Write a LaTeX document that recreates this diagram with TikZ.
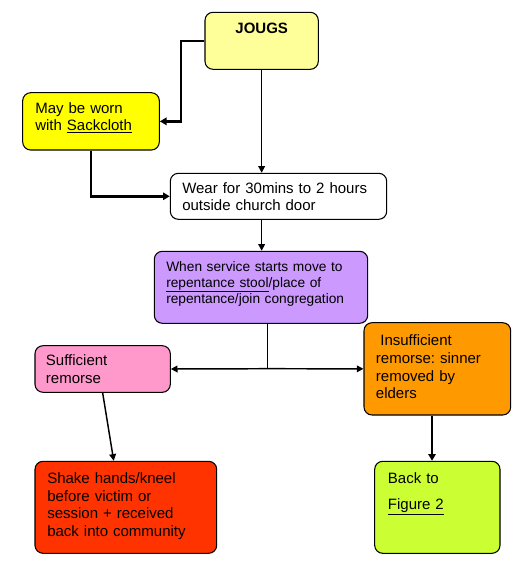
\documentclass[tikz,border=0pt]{standalone}
\usepackage{fontspec}
\setmainfont{Liberation Sans}
\usetikzlibrary{arrows.meta}
\usetikzlibrary{fit}
\frenchspacing

\definecolor{jougsyellow}{HTML}{FFFF99}
\definecolor{sackyellow}{HTML}{FFFF00}
\definecolor{servicepurple}{HTML}{CC99FF}
\definecolor{suffpink}{HTML}{FF99CC}
\definecolor{insorange}{HTML}{FF9900}
\definecolor{shakered}{HTML}{FF3300}
\definecolor{backgreen}{HTML}{CCFF33}

\tikzset{
  box/.style={draw, rounded corners=6pt, inner sep=0pt, line width=0.8pt},
  txt/.style={anchor=base west, inner sep=0pt, align=left,
    font=\fontsize{11.25}{13.3}\selectfont},
  thin link/.style={line width=1.1pt, -{Triangle[length=5pt,width=5pt]}},
  thick link/.style={line width=1.9pt, -{Triangle[length=5pt,width=5.5pt]}}
}

\begin{document}
\begin{tikzpicture}[x=0.75pt,y=-0.75pt]
  \useasboundingbox (0,0) rectangle (529,575);

  % boxes
  \node[box, fill=jougsyellow, fit={(205,12.3) (318.3,69.3)}] (jougs) {};
  \node[box, fill=sackyellow, fit={(22.7,92.7) (159.3,150)}] (sack) {};
  \node[box, fill=white, fit={(170.3,173.3) (386.7,219.3)}] (wear) {};
  \node[box, fill=servicepurple, fit={(154.3,251.3) (367.7,323.3)}] (service) {};
  \node[box, fill=suffpink, fit={(35,345.7) (170.3,392.3)}] (suff) {};
  \node[box, fill=insorange, fit={(364,322.7) (510.7,415)}] (ins) {};
  \node[box, fill=shakered, fit={(35,461.3) (216.7,553.3)}] (shake) {};
  \node[box, fill=backgreen, fit={(374.7,461.3) (500,553.3)}] (back) {};

  % texts
  \node[txt, anchor=base] (jougs-t) at (261.7,33) {\textbf{JOUGS}};
  \node[txt, text width=93pt] (sack-t) at (35,113)
    {May be worn\\with \underline{Sackcloth}};
  \node[txt, text width=153pt] (wear-t) at (182,193)
    {Wear for 30mins to 2 hours\\outside church door};
  \node[txt, text width=150pt, font=\fontsize{10.3}{12}\selectfont] (service-t) at (166,271)
    {When service starts move to\\\underline{repentance stool}/place of\\repentance/join congregation};
  \node[txt, text width=93pt] (suff-t) at (45.7,365.7)
    {Sufficient\\remorse};
  \node[txt, text width=100pt] (ins-t) at (375.7,345.7)
    {\hspace*{3.3pt}Insufficient\\remorse: sinner\\removed by\\elders};
  \node[txt, text width=127pt] (shake-t) at (47,483.3)
    {Shake hands/kneel\\before victim or\\session + received\\back into community};
  \node[txt, text width=84pt] (back-t) at (387.7,483.3)
    {Back to\\[6.2pt]\underline{Figure 2}};

  % connectors
  \draw[thick link] (jougs.west) -- ++(-23.3,0) |- (sack.east);
  \draw[thin link] (jougs.south) -- (jougs.south |- wear.north);
  \draw[thick link] (sack.south) |- (wear.west);
  \draw[thin link] (jougs.south |- wear.south) -- (jougs.south |- service.north);
  \coordinate (split) at (267.7,368.7);
  \draw[line width=1.1pt] (service.south -| split) -- (split);
  \draw[thin link] (split) -- (suff.east);
  \draw[thin link] (split) -- (ins.west);
  \draw[thin link] (suff.south) -- ([xshift=-9.1pt]shake.north);
  \draw[thick link] ([xshift=-4pt]ins.south) -- ([xshift=-4pt]back.north);
\end{tikzpicture}
\end{document}
